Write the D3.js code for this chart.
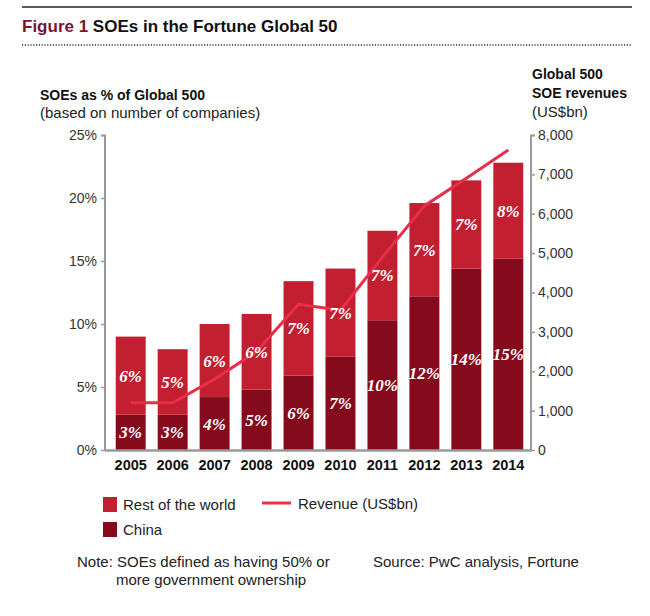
<!DOCTYPE html>
<html><head><meta charset="utf-8">
<script src="https://cdn.jsdelivr.net/npm/d3@7/dist/d3.min.js"></script>
<style>
body{margin:0;background:#fff;}
svg text{font-family:"Liberation Sans",Arial,sans-serif;}
</style></head>
<body><svg id="c" width="650" height="616"></svg>
<script>
const years = ["2005","2006","2007","2008","2009","2010","2011","2012","2013","2014"];
const china = [2.8,2.8,4.2,4.8,5.9,7.4,10.3,12.2,14.4,15.2];
const rest  = [6.2,5.2,5.8,6.0,7.5,7.0,7.1,7.4,7.0,7.6];
const chinaLabels = ["3%","3%","4%","5%","6%","7%","10%","12%","14%","15%"];
const restLabels  = ["6%","5%","6%","6%","7%","7%","7%","7%","7%","8%"];
const revenue = [1200,1200,1800,2500,3700,3550,4900,6200,6900,7620];
const leftTicks = [0,5,10,15,20,25];
const rightTicks = [0,1000,2000,3000,4000,5000,6000,7000,8000];

const C_REST="#c21f30", C_CHINA="#850b1c", C_LINE="#e82e48", AXIS="#9a9a9a";
const svg=d3.select("#c");

// header
svg.append("line").attr("x1",22).attr("x2",632).attr("y1",7).attr("y2",7).attr("stroke","#222").attr("stroke-width",1.5);
const t=svg.append("text").attr("x",22).attr("y",32).attr("font-size",17).attr("font-weight","bold");
t.append("tspan").attr("fill","#7a1530").text("Figure 1 ");
t.append("tspan").attr("fill","#111").text("SOEs in the Fortune Global 50");
svg.append("line").attr("x1",22).attr("x2",632).attr("y1",45).attr("y2",45).attr("stroke","#333").attr("stroke-width",1.5).attr("stroke-dasharray","1.2,1.6");

const x=d3.scaleBand().domain(years).range([106,533]).paddingInner(0.286).paddingOuter(0.232);
const y=d3.scaleLinear().domain([0,25]).range([450,135]);
const yr=d3.scaleLinear().domain([0,8000]).range([450,135]);

// bars
const g=svg.append("g");
g.selectAll(".ch").data(years).join("rect").attr("x",d=>x(d)).attr("width",x.bandwidth())
 .attr("y",(d,i)=>y(china[i])).attr("height",(d,i)=>y(0)-y(china[i])).attr("fill",C_CHINA);
g.selectAll(".rs").data(years).join("rect").attr("x",d=>x(d)).attr("width",x.bandwidth())
 .attr("y",(d,i)=>y(china[i]+rest[i])).attr("height",(d,i)=>y(china[i])-y(china[i]+rest[i])).attr("fill",C_REST);

// axes
const la=svg.append("g").attr("transform","translate(105,0)").call(d3.axisLeft(y).tickValues(leftTicks).tickFormat(d=>d+"%").tickSize(4).tickPadding(4));
const ra=svg.append("g").attr("transform","translate(531,0)").call(d3.axisRight(yr).tickValues(rightTicks).tickFormat(d3.format(",")).tickSize(4).tickPadding(3));
[la,ra].forEach(a=>{a.select(".domain").attr("stroke",AXIS).attr("stroke-width",2);
 a.selectAll(".tick line").attr("stroke",AXIS).attr("stroke-width",1.5);
 a.selectAll("text").attr("font-size",14).attr("fill","#333").attr("font-family","Liberation Sans, Arial, sans-serif");});
la.select(".domain").attr("d","M-4,135.5H0V450.5");
ra.select(".domain").attr("d","M4,135.5H0V450.5H-426");
svg.append("line").attr("x1",105).attr("x2",531).attr("y1",450.5).attr("y2",450.5).attr("stroke",AXIS).attr("stroke-width",2);

// x labels
svg.append("g").selectAll("text").data(years).join("text").attr("x",d=>x(d)+x.bandwidth()/2).attr("y",470)
 .attr("text-anchor","middle").attr("font-size",14.5).attr("font-weight","bold").attr("fill","#111").text(d=>d);

// line
const line=d3.line().x((d,i)=>x(years[i])+x.bandwidth()/2).y(d=>yr(d));
svg.append("path").datum(revenue).attr("d",line).attr("fill","none").attr("stroke",C_LINE).attr("stroke-width",3).attr("stroke-linejoin","round");

// bar labels
const lf='"Liberation Serif","DejaVu Serif",serif';
svg.append("g").selectAll("text").data(years).join("text").attr("x",d=>x(d)+x.bandwidth()/2)
 .attr("y",(d,i)=>y(china[i]/2)+6).attr("text-anchor","middle").attr("font-size",17).attr("font-weight","bold").attr("font-style","italic")
 .attr("fill","#fff").style("font-family",lf).text((d,i)=>chinaLabels[i]);
svg.append("g").selectAll("text").data(years).join("text").attr("x",d=>x(d)+x.bandwidth()/2)
 .attr("y",(d,i)=>y(china[i]+rest[i]/2)+6).attr("text-anchor","middle").attr("font-size",17).attr("font-weight","bold").attr("font-style","italic")
 .attr("fill","#fff").style("font-family",lf).text((d,i)=>restLabels[i]);

// axis titles
svg.append("text").attr("x",40).attr("y",100).attr("font-size",14).attr("font-weight","bold").attr("fill","#111").text("SOEs as % of Global 500");
svg.append("text").attr("x",40).attr("y",118).attr("font-size",15).attr("fill","#222").text("(based on number of companies)");
svg.append("text").attr("x",532).attr("y",79).attr("font-size",14).attr("font-weight","bold").attr("fill","#111").text("Global 500");
svg.append("text").attr("x",532).attr("y",98).attr("font-size",14).attr("font-weight","bold").attr("fill","#111").text("SOE revenues");
svg.append("text").attr("x",532).attr("y",117).attr("font-size",15).attr("fill","#222").text("(US$bn)");

// legend
svg.append("rect").attr("x",103).attr("y",497).attr("width",14).attr("height",15).attr("fill",C_REST);
svg.append("text").attr("x",123).attr("y",510).attr("font-size",15).attr("fill","#222").text("Rest of the world");
svg.append("rect").attr("x",103).attr("y",522).attr("width",14).attr("height",15).attr("fill",C_CHINA);
svg.append("text").attr("x",123).attr("y",535).attr("font-size",15).attr("fill","#222").text("China");
svg.append("line").attr("x1",262).attr("x2",291).attr("y1",503).attr("y2",503).attr("stroke",C_LINE).attr("stroke-width",3);
svg.append("text").attr("x",298).attr("y",509).attr("font-size",15).attr("fill","#222").text("Revenue (US$bn)");

// notes
svg.append("text").attr("x",77).attr("y",567).attr("font-size",15).attr("fill","#222").text("Note: SOEs defined as having 50% or");
svg.append("text").attr("x",116).attr("y",585).attr("font-size",15).attr("fill","#222").text("more government ownership");
svg.append("text").attr("x",373).attr("y",567).attr("font-size",15).attr("fill","#222").text("Source: PwC analysis, Fortune");
</script></body></html>
